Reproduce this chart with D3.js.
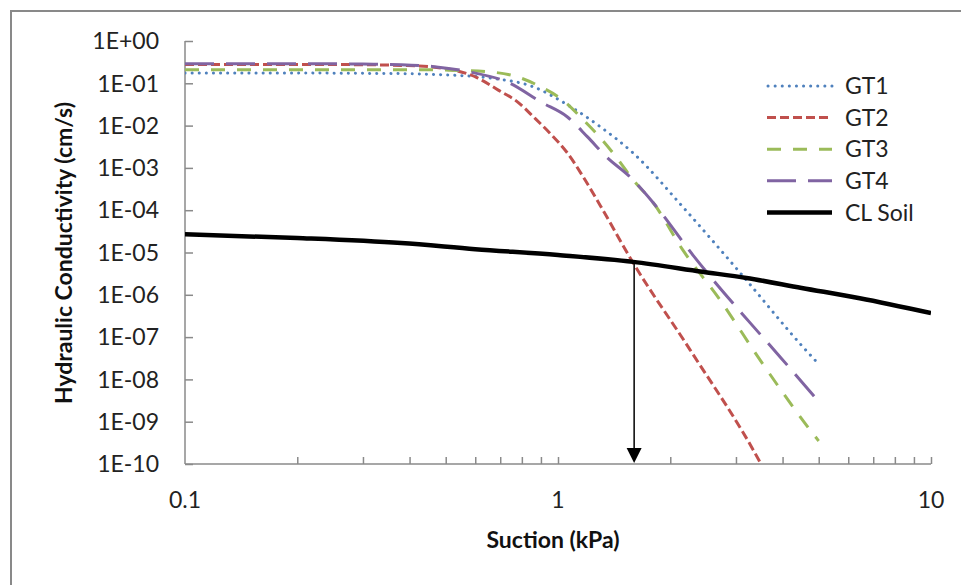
<!DOCTYPE html>
<html>
<head>
<meta charset="utf-8">
<script src="https://cdn.jsdelivr.net/npm/d3@7"></script>
<style>
  body { margin: 0; background: #fff; }
  svg { display: block; font-family: Lato, "Open Sans", sans-serif; }
</style>
</head>
<body>
<svg width="961" height="585"></svg>
<script>
// suction (kPa) and hydraulic conductivity (cm/s)
const gt1Suction = [0.1, 0.2, 0.3, 0.4, 0.5, 0.66, 0.86, 1.06, 1.3, 1.59, 2.16, 3.08, 4.54, 5];
const gt1K = [0.175, 0.175, 0.172, 0.168, 0.158, 0.133, 0.082, 0.031, 0.0093, 0.00225, 1.2e-4, 3.3e-6, 5.8e-8, 2.3e-8];

const gt2Suction = [0.1, 0.2, 0.3, 0.38, 0.46, 0.61, 0.69, 0.78, 0.86, 0.95, 1.06, 1.17, 1.3, 1.59, 2.26, 3.48, 3.8];
const gt2K = [0.28, 0.28, 0.275, 0.265, 0.243, 0.133, 0.07, 0.036, 0.016, 0.0067, 0.00225, 6.0e-4, 1.26e-4, 5.7e-6, 5e-8, 1.1e-10, 2.5e-11];

const gt3Suction = [0.1, 0.2, 0.3, 0.4, 0.5, 0.66, 0.78, 0.9, 1.03, 1.17, 1.3, 1.44, 1.59, 1.8, 2.16, 2.72, 3.48, 4.74, 5];
const gt3K = [0.21, 0.21, 0.21, 0.21, 0.205, 0.185, 0.141, 0.082, 0.040, 0.0136, 0.0051, 0.0017, 5.2e-4, 1.5e-4, 1.15e-5, 7.5e-7, 2.9e-8, 6.4e-10, 3.5e-10];

const gt4Suction = [0.1, 0.2, 0.3, 0.38, 0.46, 0.58, 0.74, 0.9, 1.06, 1.2, 1.35, 1.56, 1.8, 2.3, 2.61, 3.27, 3.94, 5];
const gt4K = [0.29, 0.29, 0.285, 0.275, 0.25, 0.185, 0.102, 0.036, 0.016, 0.0054, 0.0018, 6.1e-4, 1.5e-4, 8.7e-6, 2.2e-6, 2.2e-7, 3.4e-8, 3e-9];

const clSuction = [0.1, 0.2, 0.38, 0.6, 1.0, 1.59, 2.44, 3.2, 4.5, 6.44, 10];
const clK = [2.7e-5, 2.2e-5, 1.67e-5, 1.2e-5, 8.7e-6, 6.0e-6, 3.5e-6, 2.5e-6, 1.45e-6, 8.3e-7, 3.7e-7];

const seriesNames = ["GT1", "GT2", "GT3", "GT4", "CL Soil"];
const xTickLabels = ["0.1", "1", "10"];
const yTickLabels = ["1E+00", "1E-01", "1E-02", "1E-03", "1E-04", "1E-05", "1E-06", "1E-07", "1E-08", "1E-09", "1E-10"];

// arrow from GT2 / CL Soil crossing down to the axis
const arrowSuction = 1.6;
const arrowK = 5.9e-6;

const svg = d3.select("svg");

const x = d3.scaleLog().domain([0.1, 10]).range([185, 931]);
const y = d3.scaleLog().domain([1e-10, 1]).range([464, 41]);

const styles = [
  {color: "#4F81BD", width: 3, dash: "0.1,7", cap: "round"},
  {color: "#C0504D", width: 3, dash: "9,4", cap: "butt"},
  {color: "#9BBB59", width: 3, dash: "14,12", cap: "butt"},
  {color: "#8064A2", width: 3, dash: "29,12", cap: "butt"},
  {color: "#000000", width: 4.5, dash: null, cap: "butt"}
];

const series = [
  [gt1Suction, gt1K], [gt2Suction, gt2K], [gt3Suction, gt3K],
  [gt4Suction, gt4K], [clSuction, clK]
].map((p, i) => ({
  name: seriesNames[i],
  style: styles[i],
  values: p[0].map((s, j) => ({s: s, k: p[1][j]}))
}));

// outer chart border
svg.append("rect")
  .attr("x", 11).attr("y", 11)
  .attr("width", 980).attr("height", 600)
  .attr("fill", "none")
  .attr("stroke", "#898989")
  .attr("stroke-width", 2);

svg.append("clipPath").attr("id", "plot")
  .append("rect")
  .attr("x", 185).attr("y", 30)
  .attr("width", 746).attr("height", 434);

const axisColor = "#8a8a8a";

// y axis with inside ticks
const yAxis = svg.append("g")
  .attr("transform", "translate(185,0)")
  .call(d3.axisRight(y)
    .tickValues(d3.range(0, 11).map(i => Math.pow(10, -i)))
    .tickSize(8)
    .tickFormat(""));
yAxis.select(".domain").remove();
yAxis.selectAll("line").attr("stroke", axisColor).attr("stroke-width", 1.5);

svg.append("line")
  .attr("x1", 185).attr("x2", 185)
  .attr("y1", y(1)).attr("y2", y(1e-10))
  .attr("stroke", axisColor).attr("stroke-width", 1.5);

svg.append("g").selectAll("text")
  .data(yTickLabels)
  .join("text")
  .attr("x", 159)
  .attr("y", (d, i) => y(Math.pow(10, -i)))
  .attr("dy", "0.36em")
  .attr("text-anchor", "end")
  .attr("font-size", 23)
  .attr("fill", "#222")
  .text(d => d);

// x axis with minor ticks
const xTicks = [];
[0.1, 1].forEach(b => { for (let m = 2; m <= 10; m++) xTicks.push(b * m); });
const xAxis = svg.append("g")
  .attr("transform", "translate(0,464)")
  .call(d3.axisTop(x)
    .tickValues(xTicks)
    .tickSize(7)
    .tickFormat(""));
xAxis.select(".domain").remove();
xAxis.selectAll("line").attr("stroke", axisColor).attr("stroke-width", 1.5);

svg.append("line")
  .attr("x1", 185).attr("x2", 931)
  .attr("y1", 464).attr("y2", 464)
  .attr("stroke", axisColor).attr("stroke-width", 1.5);

svg.append("g").selectAll("text")
  .data(xTickLabels)
  .join("text")
  .attr("x", d => x(+d))
  .attr("y", 508)
  .attr("text-anchor", "middle")
  .attr("font-size", 23)
  .attr("fill", "#222")
  .text(d => d);

// axis titles
svg.append("text")
  .attr("transform", "translate(72,253) rotate(-90)")
  .attr("text-anchor", "middle")
  .attr("font-size", 23)
  .attr("font-weight", "bold")
  .attr("fill", "#111")
  .text("Hydraulic Conductivity (cm/s)");

svg.append("text")
  .attr("x", 553).attr("y", 548)
  .attr("text-anchor", "middle")
  .attr("font-size", 23)
  .attr("font-weight", "bold")
  .attr("fill", "#111")
  .text("Suction (kPa)");

// curves
const line = d3.line()
  .x(d => x(d.s))
  .y(d => y(d.k))
  .curve(d3.curveMonotoneX);

const plot = svg.append("g").attr("clip-path", "url(#plot)");

plot.selectAll("path")
  .data(series)
  .join("path")
  .attr("d", d => line(d.values))
  .attr("fill", "none")
  .attr("stroke", d => d.style.color)
  .attr("stroke-width", d => d.style.width)
  .attr("stroke-dasharray", d => d.style.dash)
  .attr("stroke-linecap", d => d.style.cap);

// arrow
const ax = x(arrowSuction);
svg.append("line")
  .attr("x1", ax).attr("x2", ax)
  .attr("y1", y(arrowK)).attr("y2", y(1e-10) - 14)
  .attr("stroke", "#000").attr("stroke-width", 1.5);
svg.append("path")
  .attr("d", `M${ax - 7.5},${y(1e-10) - 16}L${ax + 7.5},${y(1e-10) - 16}L${ax},${y(1e-10) - 1}Z`)
  .attr("fill", "#000");

// legend
const legend = svg.append("g").selectAll("g")
  .data(series)
  .join("g")
  .attr("transform", (d, i) => `translate(767,${86 + i * 31.6})`);

legend.append("line")
  .attr("x1", d => d.style.cap === "round" ? 1 : 0)
  .attr("x2", 65)
  .attr("stroke", d => d.style.color)
  .attr("stroke-width", d => d.style.width)
  .attr("stroke-dasharray", d => d.style.dash)
  .attr("stroke-linecap", d => d.style.cap);

legend.append("text")
  .attr("x", 78)
  .attr("dy", "0.36em")
  .attr("font-size", 23)
  .attr("fill", "#222")
  .text(d => d.name);
</script>
</body>
</html>
